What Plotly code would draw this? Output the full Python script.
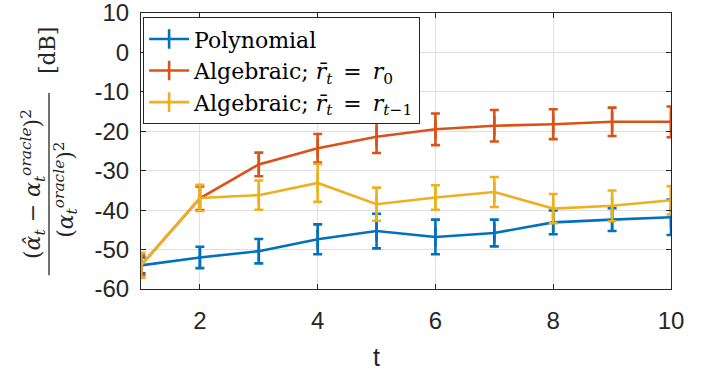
import plotly.graph_objects as go

t = [1, 2, 3, 4, 5, 6, 7, 8, 9, 10]

poly_mean = [-54.0, -52.0, -50.4, -47.4, -45.3, -46.8, -45.8, -43.1, -42.4, -41.8]
poly_err = [2.0, 2.7, 3.1, 3.8, 4.4, 4.4, 3.4, 3.0, 2.9, 4.5]

alg0_mean = [-54.0, -37.0, -28.4, -24.3, -21.4, -19.5, -18.6, -18.2, -17.6, -17.6]
alg0_err = [2.5, 3.0, 3.0, 3.6, 4.1, 4.0, 4.0, 3.8, 3.6, 3.9]

algt_mean = [-54.0, -36.9, -36.2, -33.1, -38.5, -36.8, -35.4, -39.6, -38.9, -37.5]
algt_err = [3.2, 3.3, 3.7, 4.8, 4.2, 3.1, 3.8, 3.7, 3.9, 3.6]

names = [
    "Polynomial",
    "Algebraic; <i>r̄</i><sub><i>t</i></sub>\u2002=\u2002<i>r</i><sub>0</sub>",
    "Algebraic; <i>r̄</i><sub><i>t</i></sub>\u2002=\u2002<i>r</i><sub><i>t</i>−1</sub>",
]
colors = ["#0072BD", "#D95319", "#EDB120"]

xticks = [2, 4, 6, 8, 10]
yticks = [-60, -50, -40, -30, -20, -10, 0, 10]

fig = go.Figure()
for mean, err, name, col in zip([poly_mean, alg0_mean, algt_mean],
                                [poly_err, alg0_err, algt_err], names, colors):
    fig.add_trace(go.Scatter(
        x=t, y=mean, name=name, mode="lines+markers",
        line=dict(color=col, width=2.6),
        marker=dict(symbol="line-ns-open", size=14, color=col,
                    line=dict(color=col, width=2.6)),
        error_y=dict(type="data", array=err, visible=True, color=col,
                     thickness=2.6, width=4.5),
    ))

axis_font = dict(family="Liberation Sans, Arial, sans-serif", size=24, color="#262626")

fig.update_layout(
    width=715, height=373,
    margin=dict(l=141, r=44, t=13, b=84, autoexpand=False),
    paper_bgcolor="white", plot_bgcolor="white",
    showlegend=True,
    legend=dict(
        x=0.004, y=0.985, xanchor="left", yanchor="top",
        bgcolor="white", bordercolor="#262626", borderwidth=1,
        font=dict(family="DejaVu Serif, serif", size=22, color="#000000"),
        tracegroupgap=0, itemwidth=40,
    ),
    xaxis=dict(
        range=[1, 10], tickvals=xticks, ticktext=[str(v) for v in xticks],
        showgrid=True, gridcolor="#e0e0e0", gridwidth=1,
        showline=True, linecolor="#262626", linewidth=1, mirror="ticks",
        ticks="inside", ticklen=5, tickcolor="#262626",
        tickfont=axis_font, ticklabelstandoff=10, zeroline=False,
        ticklabeloverflow="allow", automargin=False,
    ),
    yaxis=dict(
        range=[-60, 10], tickvals=yticks, ticktext=[str(v) for v in yticks],
        showgrid=True, gridcolor="#e0e0e0", gridwidth=1,
        showline=True, linecolor="#262626", linewidth=1, mirror="ticks",
        ticks="inside", ticklen=5, tickcolor="#262626",
        tickfont=axis_font, ticklabelstandoff=6, zeroline=False,
        ticklabeloverflow="allow", automargin=False,
    ),
)

serif = dict(family="DejaVu Serif, serif", size=22, color="#262626")

# x label
fig.add_annotation(text="t", xref="paper", yref="paper", x=0.445, y=-0.305,
                   xanchor="center", yanchor="bottom", showarrow=False,
                   font=dict(family="Liberation Sans, Arial, sans-serif", size=25, color="#262626"))

# y label: fraction
fig.add_annotation(
    text="(<i>α̂</i><sub><i>t</i></sub> − <i>α</i><sub><i>t</i></sub><sup><i>oracle</i></sup>)<sup>2</sup>",
    xref="paper", yref="paper", x=-0.204, y=0.38, xanchor="center", yanchor="middle",
    textangle=-90, showarrow=False, font=serif)
fig.add_annotation(
    text="(<i>α</i><sub><i>t</i></sub><sup><i>oracle</i></sup>)<sup>2</sup>",
    xref="paper", yref="paper", x=-0.143, y=0.36, xanchor="center", yanchor="middle",
    textangle=-90, showarrow=False, font=serif)
fig.add_annotation(
    text="[dB]", xref="paper", yref="paper", x=-0.1755, y=0.866,
    xanchor="center", yanchor="middle", textangle=-90, showarrow=False, font=serif)
fig.add_shape(type="line", xref="paper", yref="paper", x0=-0.1736, x1=-0.1736,
              y0=0.05, y1=0.71, line=dict(color="#262626", width=1.3))

fig.write_html("out.html")
